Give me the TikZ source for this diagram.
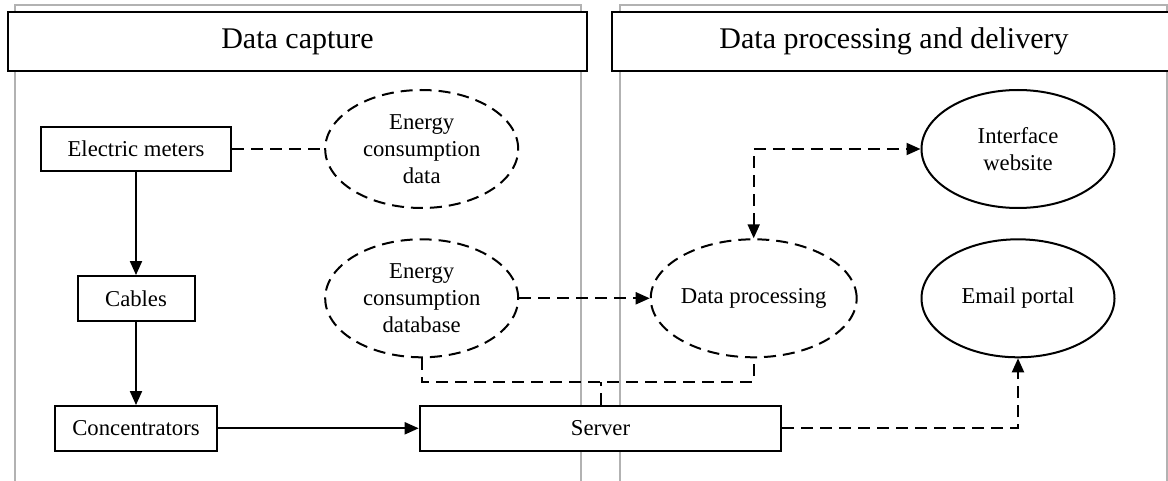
\documentclass[tikz,border=0pt]{standalone}
\usepackage{fontspec}
\setmainfont{Liberation Serif}
\usetikzlibrary{arrows.meta,shapes.geometric}
\begin{document}
\begin{tikzpicture}[x=1pt,y=-1pt,
  panel/.style={draw=gray!60,line width=1.2pt},
  header/.style={draw,line width=2pt,fill=white,inner sep=0pt,minimum height=59pt,font=\fontsize{30}{36}\selectfont},
  box/.style={draw,line width=2pt,fill=white,inner sep=0pt,minimum height=44.5pt,font=\fontsize{22.7}{27}\selectfont},
  ell/.style={ellipse,draw,line width=2pt,fill=white,inner sep=0pt,minimum width=193pt,minimum height=118pt,align=center,font=\fontsize{22.7}{27}\selectfont},
  dashline/.style={dash pattern=on 12pt off 7pt},
  conn/.style={line width=2pt},
  arr/.style={conn,-{Triangle[length=14pt,width=12pt]}},
  darr/.style={conn,{Triangle[length=14pt,width=12pt]}-{Triangle[length=14pt,width=12pt]}}
]
\useasboundingbox (0,0) rectangle (1168,481);
\clip (0,0) rectangle (1168,481);
\draw[panel] (15,5) rectangle (581,520);
\draw[panel] (620,5) rectangle (1167,520);
\node[header,minimum width=579pt] (h1) at (297.5,41.5) {Data capture};
\node[header,minimum width=564pt] (h2) at (894,41.5) {Data processing and delivery};

\node[box,minimum width=190pt] (em) at (136,149) {Electric meters};
\node[box,minimum width=117pt] (cab) at (136,298.3) {Cables};
\node[box,minimum width=162pt] (con) at (136,428.3) {Concentrators};
\node[box,minimum width=361.6pt] (srv) at (600.5,428.3) {Server};

\node[ell,dashline] (ecd) at (421.7,149) {Energy\\consumption\\data};
\node[ell,dashline] (ecdb) at (421.7,298.3) {Energy\\consumption\\database};
\node[ell,dashline] (dp) at (753.7,298.3) {Data processing};
\node[ell] (iw) at (1018,149) {Interface\\website};
\node[ell] (ep) at (1018,298.3) {Email portal};

\coordinate (bus) at (0,381.7);

\draw[conn,dashline] (em.east) -- (ecd.west);
\draw[arr] (em) -- (cab);
\draw[arr] (cab) -- (con);
\draw[arr] (con) -- (srv);
\draw[arr,dashline] (ecdb) -- (dp);
\draw[darr,dashline] (dp.north) |- (iw.west);
\draw[conn,dashline] (ecdb.south) -- (ecdb.south |- bus) -- (dp.south |- bus) -- (dp.south);
\draw[conn,dashline] (srv.north) -- (srv.north |- bus);
\draw[arr,dashline] (srv.east) -| (ep.south);
\end{tikzpicture}
\end{document}
